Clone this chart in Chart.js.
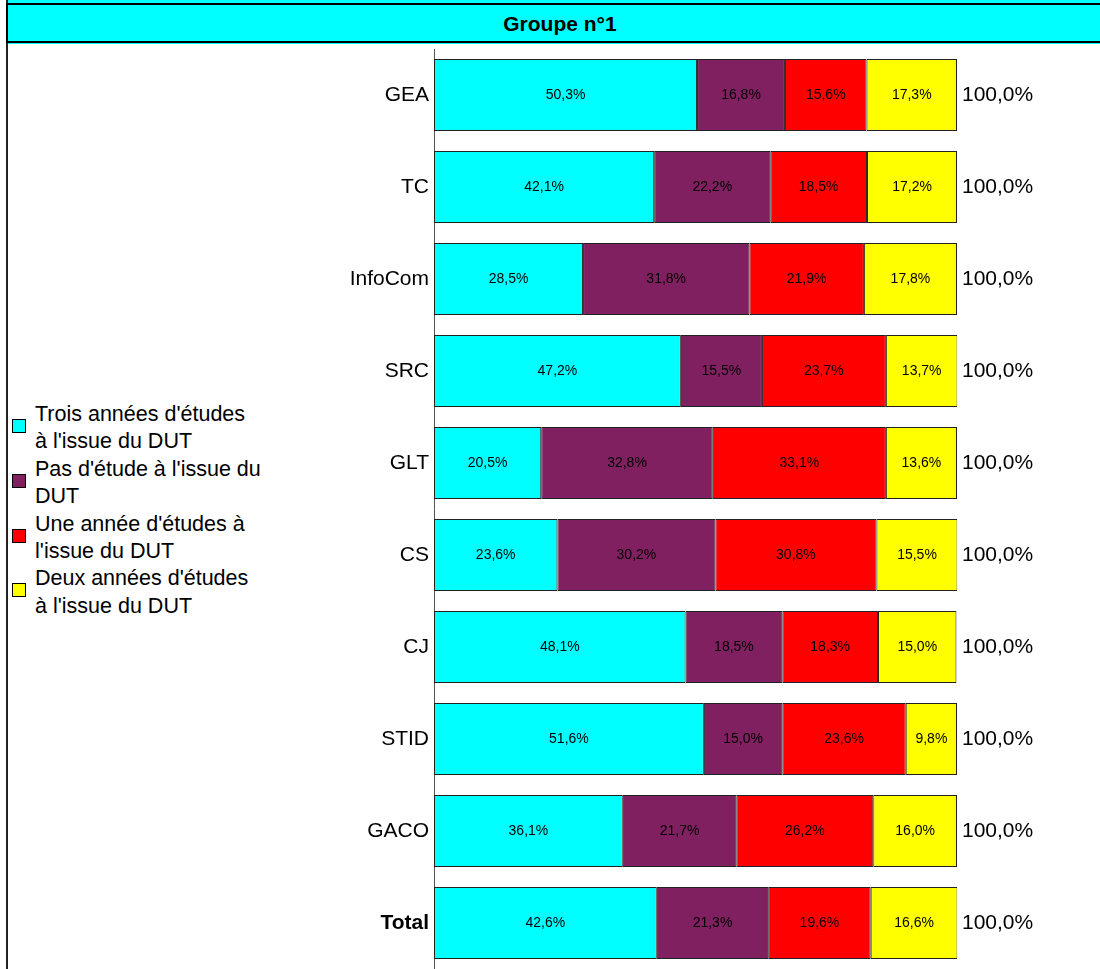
<!DOCTYPE html>
<html>
<head>
<meta charset="utf-8">
<script src="https://cdn.jsdelivr.net/npm/chart.js@4"></script>
<style>
  body { margin: 0; background: #fff; font-family: "Liberation Sans", Arial, sans-serif; }
  #page { position: relative; width: 1100px; height: 969px; overflow: hidden; }
  #frame { position: absolute; left: 6px; top: 0; width: 1200px; height: 969px; border-left: 2px solid #222; }
  #topstrip { position: absolute; left: 6px; top: 0; width: 1200px; height: 44px; background: #00ffff; }
  #title {
    position: absolute; left: 6px; top: 3px; width: 1104px; height: 36px;
    background: #00ffff; border: 2px solid #000; border-right: none;
    text-align: center; line-height: 38px; font-weight: bold; font-size: 21px; color: #000;
  }
  #wrap { position: absolute; left: 8px; top: 43px; width: 1092px; height: 926px; }
  #legend { position: absolute; left: 12px; top: 401px; font-size: 21.5px; line-height: 27.4px; color: #000; }
  .item { position: relative; padding-left: 23px; }
  .sw { position: absolute; left: 0; top: 18px; width: 12px; height: 12px; border: 1px solid #000; }
</style>
</head>
<body>
<div id="page">
  <div id="topstrip"></div>
  <div id="frame"></div>
  <div id="title">Groupe n°1</div>
  <div id="legend"></div>
  <div id="wrap"><canvas id="chart"></canvas></div>
</div>
<script>
// Categories (top to bottom)
const filieres = ['GEA', 'TC', 'InfoCom', 'SRC', 'GLT', 'CS', 'CJ', 'STID', 'GACO', 'Total'];

// Series values (%)
const troisAnnees = [50.3, 42.1, 28.5, 47.2, 20.5, 23.6, 48.1, 51.6, 36.1, 42.6];
const pasEtude    = [16.8, 22.2, 31.8, 15.5, 32.8, 30.2, 18.5, 15.0, 21.7, 21.3];
const uneAnnee    = [15.6, 18.5, 21.9, 23.7, 33.1, 30.8, 18.3, 23.6, 26.2, 19.6];
const deuxAnnees  = [17.3, 17.2, 17.8, 13.7, 13.6, 15.5, 15.0, 9.8, 16.0, 16.6];
const totaux      = [100.0, 100.0, 100.0, 100.0, 100.0, 100.0, 100.0, 100.0, 100.0, 100.0];

const series = [
  { label: ["Trois années d'études", "à l'issue du DUT"], data: troisAnnees, color: '#00ffff' },
  { label: ["Pas d'étude à l'issue du", "DUT"], data: pasEtude, color: '#802060' },
  { label: ["Une année d'études à", "l'issue du DUT"], data: uneAnnee, color: '#ff0000' },
  { label: ["Deux années d'études", "à l'issue du DUT"], data: deuxAnnees, color: '#ffff00' }
];

const fmt = v => v.toFixed(1).replace('.', ',') + '%';

// HTML legend
const legend = document.getElementById('legend');
series.forEach(s => {
  const item = document.createElement('div');
  item.className = 'item';
  item.innerHTML = `<span class="sw" style="background:${s.color}"></span>${s.label[0]}<br>${s.label[1]}`;
  legend.appendChild(item);
});

// Draw values in the bars and the totals on the right
const labelsPlugin = {
  id: 'barLabels',
  afterDatasetsDraw(chart) {
    const ctx = chart.ctx;
    ctx.save();
    ctx.fillStyle = '#000';
    ctx.textBaseline = 'middle';
    ctx.textAlign = 'center';
    ctx.font = '14px "Liberation Sans", Arial, sans-serif';
    chart.data.datasets.forEach((ds, i) => {
      chart.getDatasetMeta(i).data.forEach((bar, j) => {
        ctx.fillText(fmt(ds.data[j]), (bar.x + bar.base) / 2, bar.y);
      });
    });
    const last = chart.getDatasetMeta(chart.data.datasets.length - 1).data;
    ctx.textAlign = 'left';
    ctx.font = '21px "Liberation Sans", Arial, sans-serif';
    last.forEach((bar, j) => {
      ctx.fillText(fmt(totaux[j]), chart.chartArea.right + 5, bar.y);
    });
    ctx.restore();
  }
};

new Chart(document.getElementById('chart'), {
  type: 'bar',
  data: {
    labels: filieres,
    datasets: series.map(s => ({
      label: s.label.join(' '),
      data: s.data,
      backgroundColor: s.color,
      borderColor: '#222',
      borderWidth: 1,
      borderSkipped: false,
      barPercentage: 0.783,
      categoryPercentage: 1
    }))
  },
  options: {
    indexAxis: 'y',
    responsive: true,
    maintainAspectRatio: false,
    animation: false,
    layout: { padding: { top: 6, right: 143, bottom: 0, left: 0 } },
    plugins: {
      legend: { display: false },
      tooltip: { enabled: false }
    },
    scales: {
      x: { stacked: true, min: 0, max: 100, display: false },
      y: {
        stacked: true,
        grid: { display: false, drawTicks: false },
        border: { display: true, color: '#555', width: 1 },
        afterFit: scale => {
          scale.width = 426;
          scale.paddingTop = 0;
          scale.paddingBottom = 0;
        },
        ticks: {
          color: '#000',
          padding: 5,
          font: c => ({
            family: '"Liberation Sans", Arial, sans-serif',
            size: 21,
            weight: filieres[c.index] === 'Total' ? 'bold' : 'normal'
          })
        }
      }
    }
  },
  plugins: [labelsPlugin]
});
</script>
</body>
</html>
